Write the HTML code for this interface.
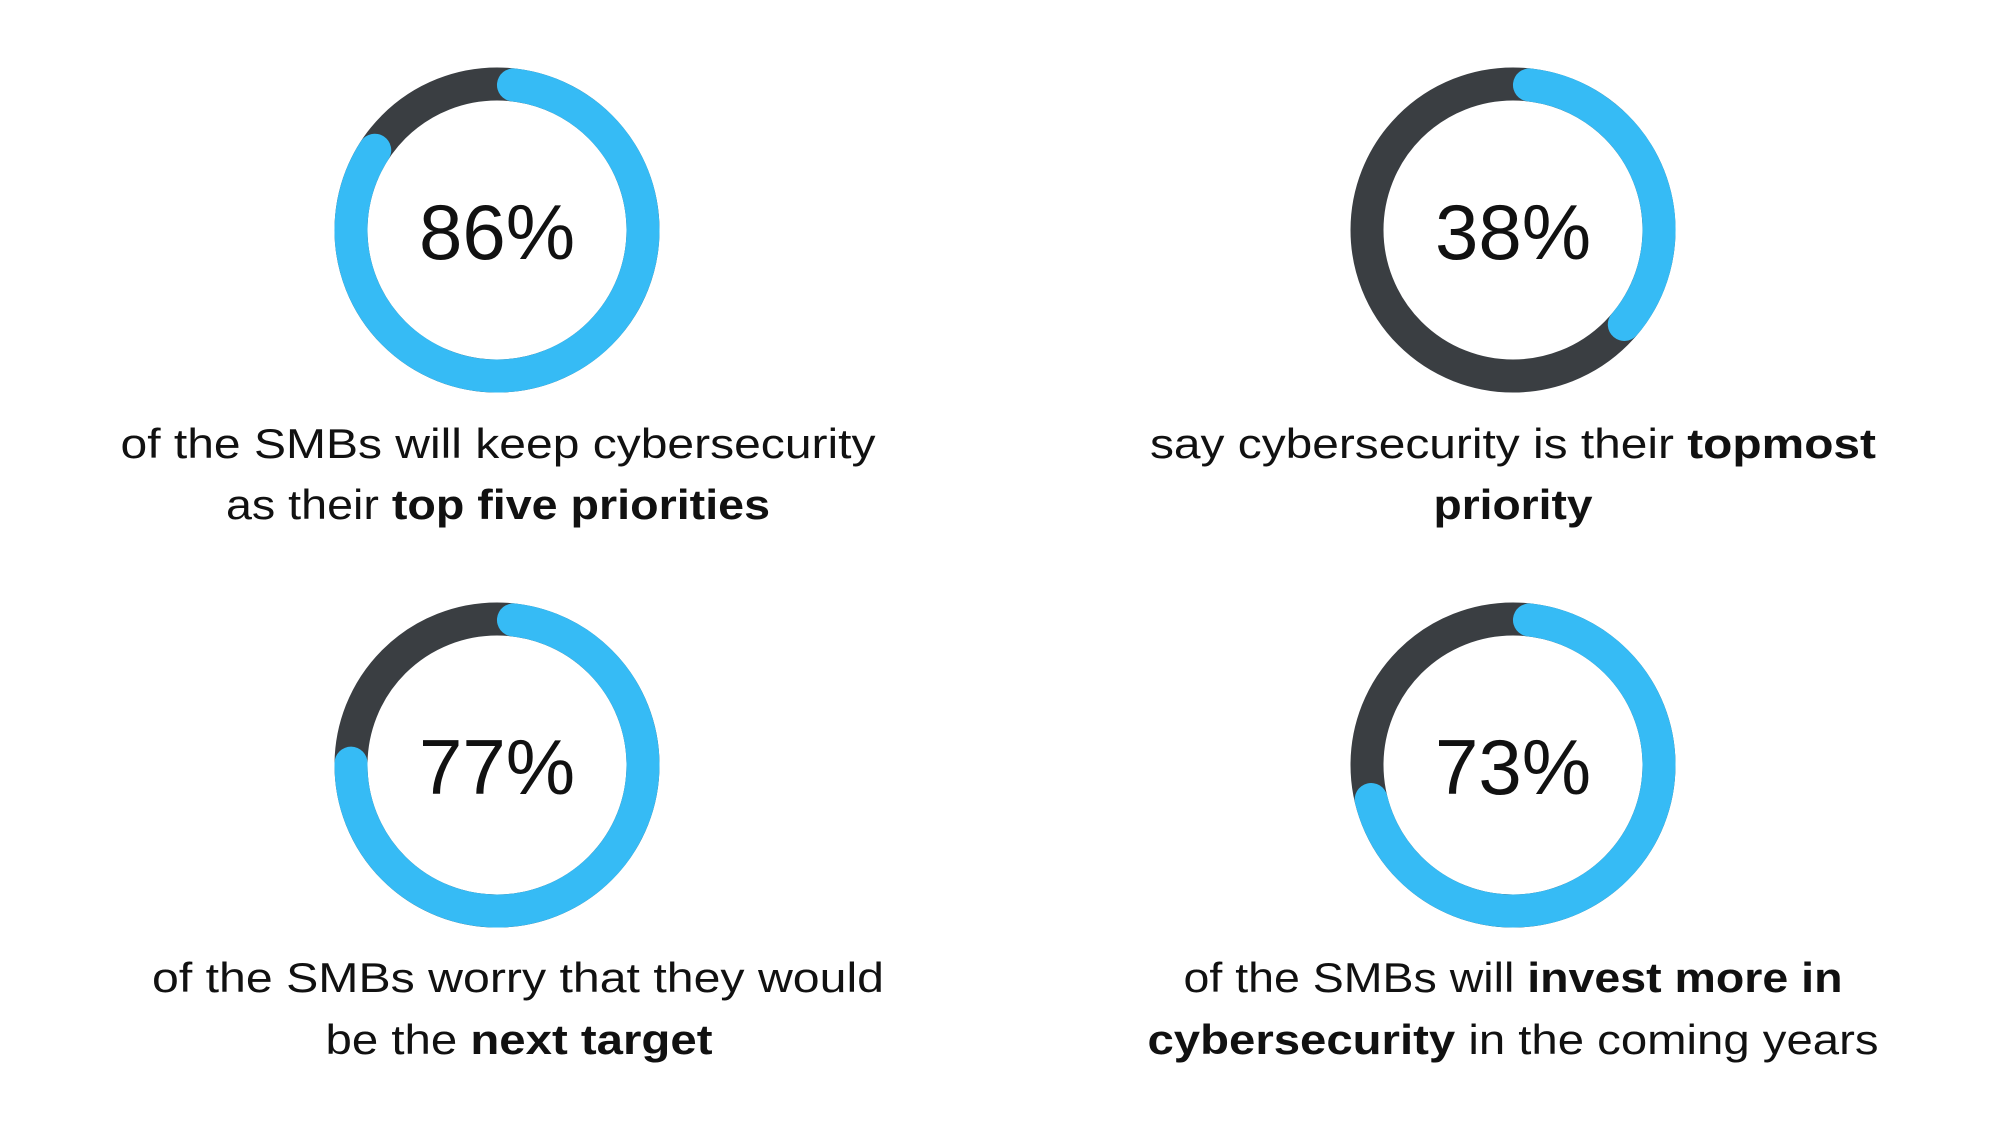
<!DOCTYPE html>
<html><head><meta charset="utf-8"><style>
html,body{margin:0;padding:0;background:#fff;}
svg{display:block;}
text{font-family:"Liberation Sans",sans-serif;fill:#111;}
</style></head><body>
<svg id="chart" width="2000" height="1126" viewBox="0 0 2000 1126" xmlns="http://www.w3.org/2000/svg">
  <g>
    <text x="498" y="458" font-size="42" text-anchor="middle" textLength="755" lengthAdjust="spacingAndGlyphs">of the SMBs will keep cybersecurity</text>
    <text x="498" y="519" font-size="42" text-anchor="middle" textLength="544" lengthAdjust="spacingAndGlyphs">as their <tspan font-weight="bold">top five priorities</tspan></text>
  </g>
  <g>
    <text x="1513" y="458" font-size="42" text-anchor="middle" textLength="726" lengthAdjust="spacingAndGlyphs">say cybersecurity is their <tspan font-weight="bold">topmost</tspan></text>
    <text x="1513" y="519" font-size="42" text-anchor="middle" font-weight="bold" textLength="159" lengthAdjust="spacingAndGlyphs">priority</text>
  </g>
  <g>
    <text x="518" y="992" font-size="42" text-anchor="middle" textLength="732" lengthAdjust="spacingAndGlyphs">of the SMBs worry that they would</text>
    <text x="519" y="1054" font-size="42" text-anchor="middle" textLength="387" lengthAdjust="spacingAndGlyphs">be the <tspan font-weight="bold">next target</tspan></text>
  </g>
  <g>
    <text x="1513" y="992" font-size="42" text-anchor="middle" textLength="659" lengthAdjust="spacingAndGlyphs">of the SMBs will <tspan font-weight="bold">invest more in</tspan></text>
    <text x="1513" y="1054" font-size="42" text-anchor="middle" textLength="731" lengthAdjust="spacingAndGlyphs"><tspan font-weight="bold">cybersecurity</tspan> in the coming years</text>
  </g>
</svg>
<script>
const percentValues = [86, 38, 77, 73];
const percentLabels = ["86%", "38%", "77%", "73%"];
const centersX = [497, 1513, 497, 1513];
const centersY = [230, 230, 765, 765];

const svg = document.getElementById('chart');
const NS = 'http://www.w3.org/2000/svg';
const R = 146, SW = 33;
function pt(cx, cy, ang){ // ang in radians, 0 = top, clockwise
  return [cx + R*Math.sin(ang), cy - R*Math.cos(ang)];
}
percentValues.forEach((v, i) => {
  const cx = centersX[i], cy = centersY[i];
  const g = document.createElementNS(NS, 'g');
  
  
  const bg = document.createElementNS(NS, 'circle');
  
  
  bg.setAttribute('cx', cx); bg.setAttribute('cy', cy); bg.setAttribute('r', R);
  bg.setAttribute('fill', 'none'); bg.setAttribute('stroke', '#3a3e42'); bg.setAttribute('stroke-width', SW);
  g.appendChild(bg);
  const cap = (SW/2)/R;
  const a0 = cap, a1 = v/100*2*Math.PI - cap;
  const p0 = pt(cx, cy, a0), p1 = pt(cx, cy, a1);
  const large = (a1 - a0) > Math.PI ? 1 : 0;
  const arc = document.createElementNS(NS, 'path');
  
  
  arc.setAttribute('d', `M${p0[0]},${p0[1]} A${R},${R} 0 ${large} 1 ${p1[0]},${p1[1]}`);
  arc.setAttribute('fill', 'none'); arc.setAttribute('stroke', '#36bbf5');
  arc.setAttribute('stroke-width', SW); arc.setAttribute('stroke-linecap', 'round');
  g.appendChild(arc);
  const t = document.createElementNS(NS, 'text');
  
  
  t.setAttribute('x', cx); t.setAttribute('y', cy + 29);
  t.setAttribute('text-anchor', 'middle'); t.setAttribute('font-size', '78');
  t.textContent = percentLabels[i];
  g.appendChild(t);
  svg.appendChild(g);
});
</script>
</body></html>
